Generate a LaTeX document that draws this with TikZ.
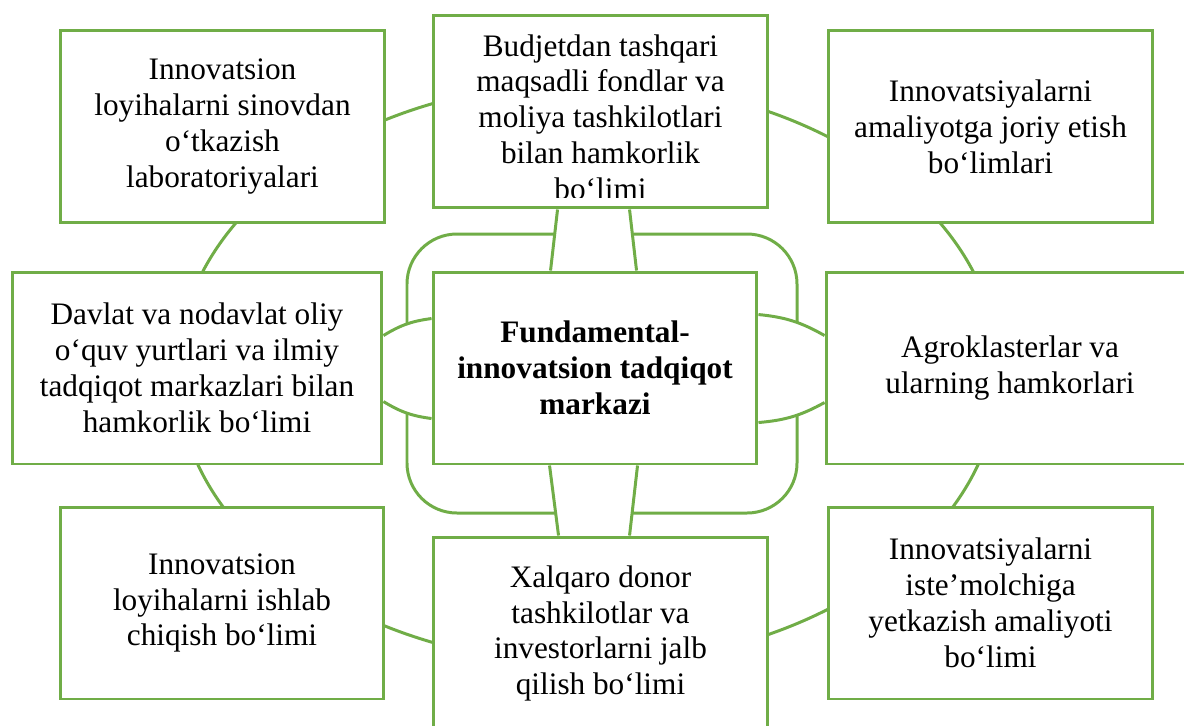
\documentclass[tikz,border=0pt]{standalone}
\usepackage{fontspec}
\setmainfont{Liberation Serif}
\usetikzlibrary{calc,backgrounds}
\definecolor{ringgreen}{RGB}{112,173,71}
\tikzset{
  box/.style={draw=ringgreen, line width=1.7pt, fill=white, align=center,
    inner sep=0pt, font=\fontsize{17.8}{20.4}\selectfont},
  ring/.style={draw=ringgreen, line width=1.7pt},
}

\begin{document}
\begin{tikzpicture}[x=0.02cm, y=-0.02cm]
  %%%%% START %%%%%
  \useasboundingbox (0,0) rectangle (1184,725);

  % outer boxes
  \node[box, minimum width=6.5cm, minimum height=3.86cm] (tl) at (222.5,126.5)
    {Innovatsion\\loyihalarni sinovdan\\o‘tkazish\\laboratoriyalari};
  \node[box, minimum width=6.7cm, minimum height=3.86cm] (tm) at (600.5,111.5) {};
  \node[box, minimum width=6.5cm, minimum height=3.86cm] (tr) at (990.5,126.5)
    {Innovatsiyalarni\\amaliyotga joriy etish\\bo‘limlari};

  \node[box, minimum width=7.4cm, minimum height=3.84cm] (ml) at (197,368)
    {Davlat va nodavlat oliy\\o‘quv yurtlari va ilmiy\\tadqiqot markazlari bilan\\hamkorlik bo‘limi};
  \node[box, minimum width=6.48cm, minimum height=3.84cm] (ctr) at (595,368)
    {\bfseries Fundamental-\\\bfseries innovatsion tadqiqot\\\bfseries markazi};
  \node[box, minimum width=7.36cm, minimum height=3.84cm] (mr) at (1010,368)
    {Agroklasterlar va\\ularning hamkorlari};

  \node[box, minimum width=6.48cm, minimum height=3.84cm] (bl) at (222,603)
    {Innovatsion\\loyihalarni ishlab\\chiqish bo‘limi};
  \node[box, minimum width=6.7cm, minimum height=3.86cm] (bm) at (600.5,633.5)
    {Xalqaro donor\\tashkilotlar va\\investorlarni jalb\\qilish bo‘limi};
  \node[box, minimum width=6.5cm, minimum height=3.84cm] (br) at (990.5,603)
    {Innovatsiyalarni\\iste’molchiga\\yetkazish amaliyoti\\bo‘limi};

  % text of the top box runs over its lower edge
  \begin{scope}
    \clip (436,18) rectangle (765,197);
    \node[box, draw=none, fill=none] (tmtext) at (600.5,117)
      {Budjetdan tashqari\\maqsadli fondlar va\\moliya tashkilotlari\\bilan hamkorlik\\bo‘limi};
  \end{scope}

  % ends of the connectors round the centre
  \coordinate (t1) at ($(tm.south west)+(126,0)$);
  \coordinate (t2) at ($(ctr.north west)+(119,0)$);
  \coordinate (t3) at ($(tm.south west)+(198,0)$);
  \coordinate (t4) at ($(ctr.north west)+(205,0)$);
  \coordinate (b1) at ($(ctr.south west)+(118,0)$);
  \coordinate (b2) at ($(bm.north west)+(127,0)$);
  \coordinate (b3) at ($(ctr.south west)+(206,0)$);
  \coordinate (b4) at ($(bm.north west)+(198,0)$);
  \coordinate (l1) at ($(ml.north east)+(0,65)$);
  \coordinate (l2) at ($(ctr.north west)+(0,48)$);
  \coordinate (l3) at ($(ml.north east)+(0,131)$);
  \coordinate (l4) at ($(ctr.north west)+(0,148)$);
  \coordinate (r1) at ($(ctr.north east)+(0,44)$);
  \coordinate (r2) at ($(mr.north west)+(0,65)$);
  \coordinate (r3) at ($(ctr.north east)+(0,152)$);
  \coordinate (r4) at ($(mr.north west)+(0,132)$);

  \begin{scope}[on background layer]
    \draw[ring] (588,373) ellipse [x radius=8.22cm, y radius=5.82cm];
    \draw[ring, rounded corners=1cm] (407,234) rectangle (797,513);

    \fill[white] (t1) -- (t2) -- (t4) -- (t3) -- cycle;
    \fill[white] (b1) -- (b2) -- (b4) -- (b3) -- cycle;
    \fill[white] (l1) to[bend left=12] (l2) -- (l4) to[bend left=12] (l3) -- cycle;
    \fill[white] (r1) to[bend left=12] (r2) -- (r4) to[bend left=12] (r3) -- cycle;

    \draw[ring] (t1) -- (t2);
    \draw[ring] (t3) -- (t4);
    \draw[ring] (b1) -- (b2);
    \draw[ring] (b3) -- (b4);
    \draw[ring] (l1) to[bend left=12] (l2);
    \draw[ring] (l3) to[bend right=12] (l4);
    \draw[ring] (r1) to[bend left=12] (r2);
    \draw[ring] (r3) to[bend right=12] (r4);
  \end{scope}
  %%%%% END %%%%%
\end{tikzpicture}
\end{document}
